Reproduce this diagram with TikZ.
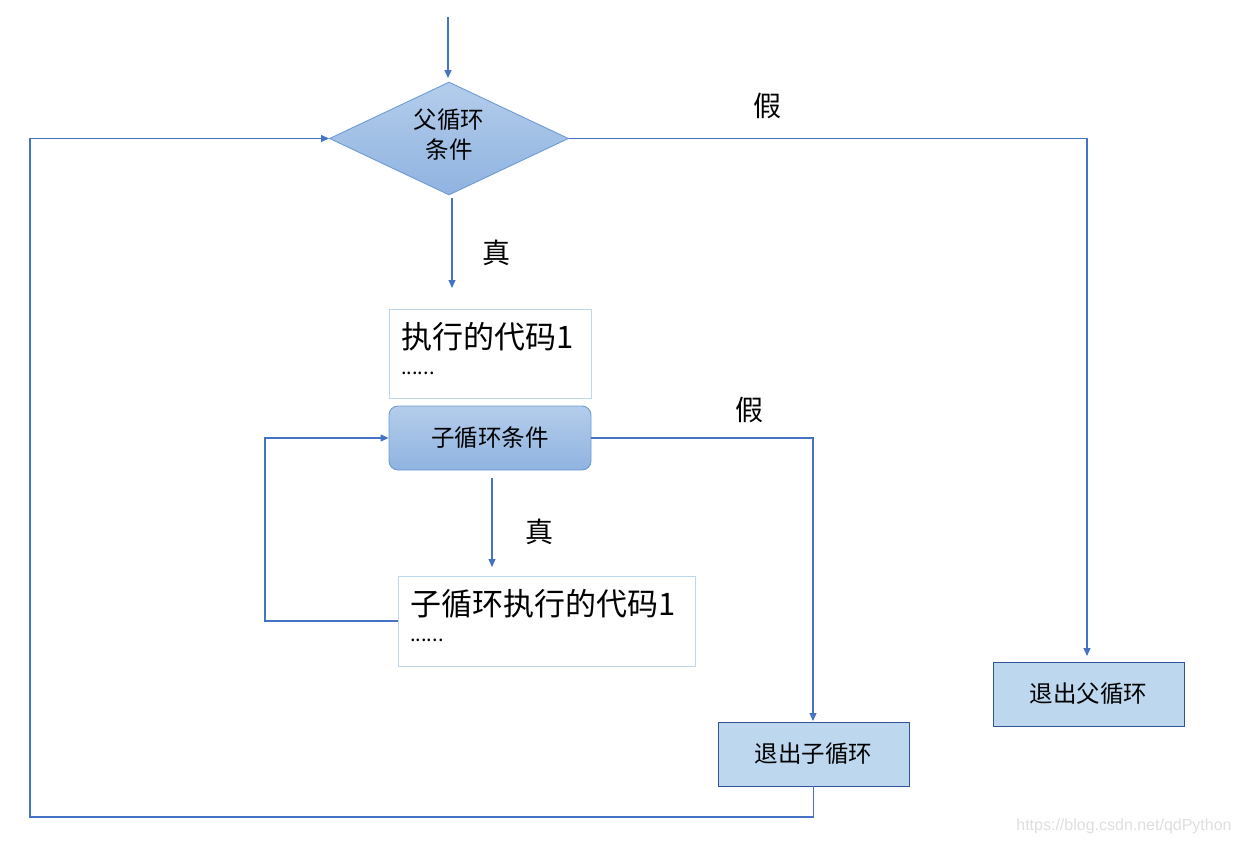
\documentclass[tikz,border=0pt]{standalone}
\usepackage{fontspec}
\setmainfont{Noto Sans CJK SC}
\newfontfamily\wmfont{Liberation Sans}
\usetikzlibrary{shapes.geometric,arrows.meta}
\definecolor{lineblue}{HTML}{4472C4}
\definecolor{fillA}{HTML}{B4CDEB}
\definecolor{fillB}{HTML}{8FB3E0}
\definecolor{edgeblue}{HTML}{6E9BD6}
\definecolor{paleedge}{HTML}{BDD7EE}
\definecolor{exitfill}{HTML}{BDD7EE}
\definecolor{exitedge}{HTML}{2F5597}
\begin{document}
\begin{tikzpicture}[x=1pt,y=-1pt,
  conn/.style={draw=lineblue,line width=1.1pt},
  arr/.style={conn,-{Triangle[length=8pt,width=7pt]}},
  gradbox/.style={top color=fillA,bottom color=fillB,draw=edgeblue,line width=0.9pt},
  exitbox/.style={draw=exitedge,fill=exitfill,line width=0.9pt,minimum width=191pt,minimum height=64pt,font=\fontsize{23.5}{26}\selectfont},
  lbl/.style={font=\fontsize{28}{30}\selectfont}]
\useasboundingbox (0,0) rectangle (1239,844);
% parent condition diamond
\node[diamond,gradbox,minimum width=239pt,minimum height=113pt,inner sep=0pt,aspect=2.1] (pc) at (449,138.5) {};
\node[align=center,font=\fontsize{23.5}{30}\selectfont,inner sep=0pt] (pct) at (449,135) {父循环\\条件};
\coordinate (top) at (448,17);
\draw[arr] (top) -- (448,78);
% code box 1
\node[draw=paleedge,line width=0.9pt,minimum width=202pt,minimum height=89pt] (c1) at (490,353.5) {};
\node[anchor=north west,font=\fontsize{31}{34}\selectfont,align=left,inner sep=0pt] (c1t) at (401,322) {执行的代码1\\[-8pt]\fontsize{20}{22}\selectfont ......};
% sub condition rounded box
\node[gradbox,rounded corners=9pt,minimum width=202pt,minimum height=64pt,font=\fontsize{23.5}{26}\selectfont] (sc) at (490,438) {子循环条件};
% code box 2
\node[draw=paleedge,line width=0.9pt,minimum width=297pt,minimum height=90pt] (c2) at (546.5,621) {};
\node[anchor=north west,font=\fontsize{31}{34}\selectfont,align=left,inner sep=0pt] (c2t) at (410,589) {子循环执行的代码1\\[-8pt]\fontsize{20}{22}\selectfont ......};
% exit boxes
\node[exitbox] (ep) at (1088.5,694) {退出父循环};
\node[exitbox] (es) at (813.5,754) {退出子循环};
% true arrows
\coordinate (pcb) at (452,198);
\draw[arr] (pcb) -- (452,288);
\node[lbl] (t1) at (496,253) {真};
\coordinate (scb) at (492,478);
\draw[arr] (scb) -- (492,567);
\node[lbl] (t2) at (539,532) {真};
% false to exit parent
\draw[arr] (pc.east) -- (1087,138.5) -- (1087,656);
\node[lbl] (f1) at (767,106) {假};
% false to exit sub
\draw[arr] (sc.east) -- (813,438) -- (813,721);
\node[lbl] (f2) at (749,410) {假};
% inner loop back
\draw[arr] (c2.west) -- (265,621) -- (265,438) -- (sc.west);
% outer loop back
\draw[arr] (es.south) -- (813.5,817) -- (30,817) -- (30,138.5) -- (pc.west);
% watermark
\node[font=\fontsize{16}{18}\selectfont\wmfont,text=black!13] (wm) at (1124,826) {https://blog.csdn.net/qdPython};
\end{tikzpicture}
\end{document}
